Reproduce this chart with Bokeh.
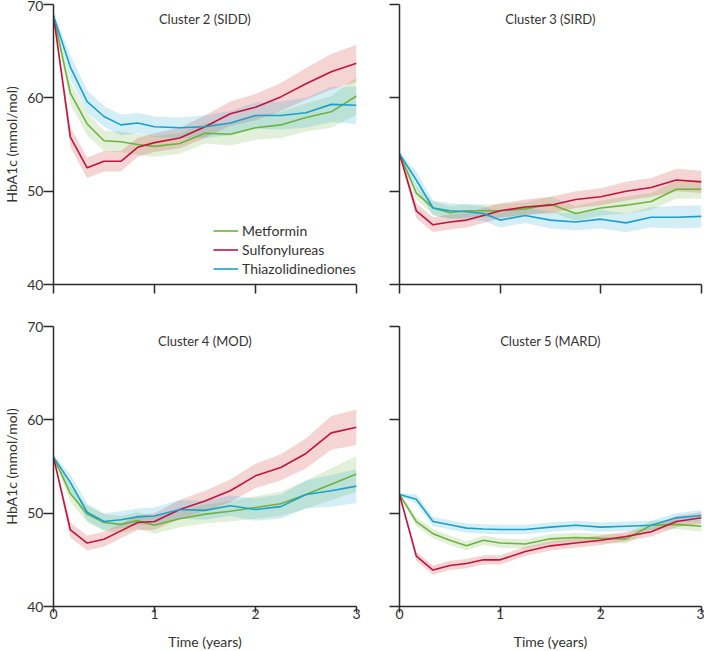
from bokeh.plotting import figure
from bokeh.layouts import column, row
from bokeh.models import Range1d, FixedTicker, Label, Legend, LegendItem
from bokeh.embed import file_html
from bokeh.resources import INLINE

FONT = "Lato"

time_years = [0.0, 0.167, 0.333, 0.5, 0.667, 0.833, 1.0, 1.25, 1.5, 1.75, 2.0, 2.25, 2.5, 2.75, 3.0]
x_ticks = [0, 1, 2, 3]
y_ticks = [40, 50, 60, 70]
drugs = ["Metformin", "Sulfonylureas", "Thiazolidinediones"]
titles = ["Cluster 2 (SIDD)", "Cluster 3 (SIRD)", "Cluster 4 (MOD)", "Cluster 5 (MARD)"]

# Cluster 2 (SIDD)
c2_metformin = [68.8, 60.5, 57.2, 55.4, 55.3, 55.0, 54.8, 55.1, 56.2, 56.1, 56.8, 57.1, 57.9, 58.5, 60.2]
c2_metformin_ci = [0.3, 1.2, 1.2, 1.1, 1.1, 1.1, 1.1, 1.1, 1.1, 1.2, 1.3, 1.4, 1.5, 1.7, 2.0]
c2_sulfonylureas = [68.8, 55.8, 52.5, 53.2, 53.2, 54.7, 55.2, 55.7, 56.9, 58.3, 59.0, 60.1, 61.5, 62.8, 63.7]
c2_sulfonylureas_ci = [0.3, 1.1, 1.1, 1.1, 1.1, 1.0, 1.0, 1.1, 1.2, 1.3, 1.4, 1.5, 1.7, 1.9, 2.0]
c2_thiazolidinediones = [68.8, 63.3, 59.6, 58.0, 57.1, 57.3, 56.9, 56.8, 56.9, 57.3, 58.1, 58.1, 58.4, 59.3, 59.2]
c2_thiazolidinediones_ci = [0.3, 1.3, 1.2, 1.1, 1.1, 1.1, 1.1, 1.1, 1.2, 1.3, 1.4, 1.5, 1.6, 1.9, 2.0]

# Cluster 3 (SIRD)
c3_metformin = [54.0, 49.8, 48.2, 47.7, 47.9, 47.9, 47.9, 48.1, 48.6, 47.6, 48.2, 48.5, 48.9, 50.2, 50.2]
c3_metformin_ci = [0.2, 0.7, 0.7, 0.7, 0.7, 0.7, 0.7, 0.7, 0.8, 0.8, 0.8, 0.9, 0.9, 1.0, 1.0]
c3_sulfonylureas = [54.0, 47.9, 46.4, 46.7, 46.9, 47.4, 47.9, 48.3, 48.5, 49.1, 49.4, 50.0, 50.4, 51.2, 51.0]
c3_sulfonylureas_ci = [0.2, 0.8, 0.8, 0.8, 0.8, 0.8, 0.8, 0.8, 0.9, 0.9, 0.9, 1.0, 1.0, 1.2, 1.2]
c3_thiazolidinediones = [54.0, 51.2, 48.2, 47.9, 47.8, 47.6, 46.9, 47.4, 46.9, 46.7, 47.0, 46.6, 47.2, 47.2, 47.3]
c3_thiazolidinediones_ci = [0.2, 0.9, 0.8, 0.8, 0.8, 0.8, 0.8, 0.8, 0.9, 0.9, 1.0, 1.0, 1.1, 1.2, 1.2]

# Cluster 4 (MOD)
c4_metformin = [56.0, 52.1, 49.9, 49.0, 48.8, 49.2, 48.7, 49.4, 49.9, 50.2, 50.6, 51.0, 52.0, 53.1, 54.2]
c4_metformin_ci = [0.2, 0.9, 0.9, 0.9, 0.9, 0.9, 0.9, 0.9, 1.0, 1.1, 1.2, 1.3, 1.5, 1.7, 1.9]
c4_sulfonylureas = [56.0, 48.2, 46.8, 47.2, 48.1, 49.0, 49.1, 50.4, 51.3, 52.4, 54.0, 54.9, 56.4, 58.6, 59.2]
c4_sulfonylureas_ci = [0.2, 0.8, 0.8, 0.8, 0.8, 0.8, 0.9, 1.0, 1.1, 1.2, 1.3, 1.4, 1.6, 1.8, 1.9]
c4_thiazolidinediones = [56.0, 53.3, 50.1, 49.1, 49.3, 49.6, 49.7, 50.4, 50.3, 50.8, 50.4, 50.7, 52.0, 52.4, 52.9]
c4_thiazolidinediones_ci = [0.2, 0.9, 0.9, 0.9, 0.9, 0.9, 0.9, 1.0, 1.0, 1.1, 1.2, 1.3, 1.5, 1.7, 1.8]

# Cluster 5 (MARD)
c5_metformin = [52.0, 49.1, 47.8, 47.1, 46.5, 47.1, 46.8, 46.7, 47.25, 47.4, 47.3, 47.25, 48.7, 48.8, 48.6]
c5_metformin_ci = [0.2, 0.5, 0.5, 0.5, 0.5, 0.5, 0.5, 0.5, 0.5, 0.5, 0.5, 0.5, 0.5, 0.5, 0.6]
c5_sulfonylureas = [52.0, 45.4, 43.9, 44.4, 44.6, 45.0, 45.0, 45.9, 46.5, 46.8, 47.1, 47.5, 48.0, 49.1, 49.5]
c5_sulfonylureas_ci = [0.2, 0.5, 0.5, 0.5, 0.5, 0.5, 0.5, 0.5, 0.5, 0.5, 0.5, 0.5, 0.5, 0.6, 0.6]
c5_thiazolidinediones = [52.0, 51.5, 49.1, 48.75, 48.4, 48.3, 48.25, 48.25, 48.5, 48.7, 48.5, 48.6, 48.7, 49.5, 49.75]
c5_thiazolidinediones_ci = [0.2, 0.5, 0.5, 0.5, 0.5, 0.5, 0.5, 0.5, 0.5, 0.5, 0.5, 0.5, 0.5, 0.5, 0.6]

line_colors = ["#6cb33f", "#c4123f", "#1aa0cc"]
band_colors = ["#6cb33f", "#d23c3c", "#2aa8d4"]
band_alpha = [0.2, 0.22, 0.2]

clusters = [
    [(c2_metformin, c2_metformin_ci), (c2_sulfonylureas, c2_sulfonylureas_ci), (c2_thiazolidinediones, c2_thiazolidinediones_ci)],
    [(c3_metformin, c3_metformin_ci), (c3_sulfonylureas, c3_sulfonylureas_ci), (c3_thiazolidinediones, c3_thiazolidinediones_ci)],
    [(c4_metformin, c4_metformin_ci), (c4_sulfonylureas, c4_sulfonylureas_ci), (c4_thiazolidinediones, c4_thiazolidinediones_ci)],
    [(c5_metformin, c5_metformin_ci), (c5_sulfonylureas, c5_sulfonylureas_ci), (c5_thiazolidinediones, c5_thiazolidinediones_ci)],
]

AXIS_COLOR = "#2b2b2b"
TEXT_COLOR = "#333333"


def make_panel(idx, left, top):
    bottom = not top
    p = figure(frame_width=303 if left else 302, frame_height=280,
               output_backend="svg", toolbar_location=None,
               x_range=Range1d(x_ticks[0], x_ticks[-1]), y_range=Range1d(y_ticks[0], y_ticks[-1]),
               min_border_left=53 if left else 34, min_border_right=9 if left else 3,
               min_border_top=4 if top else 22, min_border_bottom=20 if top else 44)
    p.outline_line_color = None
    p.grid.visible = False
    p.background_fill_color = "white"
    p.border_fill_color = "white"

    renderers = []
    for k, (vals, ci) in enumerate(clusters[idx]):
        lo = [v - c for v, c in zip(vals, ci)]
        hi = [v + c for v, c in zip(vals, ci)]
        p.varea(x=time_years, y1=lo, y2=hi, fill_color=band_colors[k], fill_alpha=band_alpha[k])
    for k, (vals, ci) in enumerate(clusters[idx]):
        r = p.line(time_years, vals, line_color=line_colors[k], line_width=1.6)
        renderers.append(r)

    for ax in (p.xaxis[0], p.yaxis[0]):
        ax.axis_line_color = AXIS_COLOR
        ax.axis_line_width = 1.5
        ax.major_tick_line_color = AXIS_COLOR
        ax.major_tick_line_width = 1.5
        ax.major_tick_in = 0
        ax.minor_tick_line_color = None
        ax.major_label_text_font = FONT
        ax.major_label_text_font_size = "14px"
        ax.major_label_text_color = TEXT_COLOR
        ax.axis_label_text_font = FONT
        ax.axis_label_text_font_size = "14px"
        ax.axis_label_text_font_style = "normal"
        ax.axis_label_text_color = TEXT_COLOR
    p.xaxis.ticker = FixedTicker(ticks=x_ticks)
    p.yaxis.ticker = FixedTicker(ticks=y_ticks)
    p.yaxis.major_tick_out = 10
    p.yaxis.major_label_standoff = 0
    p.xaxis.major_tick_out = 9 if top else 6
    p.xaxis.major_label_standoff = 0 if top else -4

    if left:
        p.yaxis.axis_label = "HbA1c (mmol/mol)"
        p.yaxis.axis_label_standoff = 4
    else:
        p.yaxis.major_label_overrides = {t: "" for t in y_ticks}
        p.yaxis.major_label_text_font_size = "8px"
    if bottom:
        p.xaxis.axis_label = "Time (years)"
        p.xaxis.axis_label_standoff = 11
    else:
        p.xaxis.major_label_overrides = {t: "" for t in x_ticks}
        p.xaxis.major_label_text_font_size = "8px"

    xm = (x_ticks[0] + x_ticks[-1]) / 2
    p.add_layout(Label(x=xm, y=68.5, text=titles[idx], text_align="center", text_baseline="middle",
                       text_font=FONT, text_font_size="13px", text_color=TEXT_COLOR))

    if idx == 0:
        legend = Legend(items=[LegendItem(label=drugs[k], renderers=[renderers[k]]) for k in range(3)],
                        location=(160, 6), padding=0, margin=0, spacing=0,
                        glyph_width=25, glyph_height=19, label_height=19, label_standoff=4,
                        label_text_font=FONT, label_text_font_size="14px", label_text_color=TEXT_COLOR,
                        border_line_color=None, background_fill_alpha=0)
        p.add_layout(legend)
    return p


p1 = make_panel(0, True, True)
p2 = make_panel(1, False, True)
p3 = make_panel(2, True, False)
p4 = make_panel(3, False, False)

layout = column(row(p1, p2, spacing=0), row(p3, p4, spacing=0), spacing=0, margin=(0, 0, 0, 0))

open("out.html", "w").write(file_html(layout, INLINE))
